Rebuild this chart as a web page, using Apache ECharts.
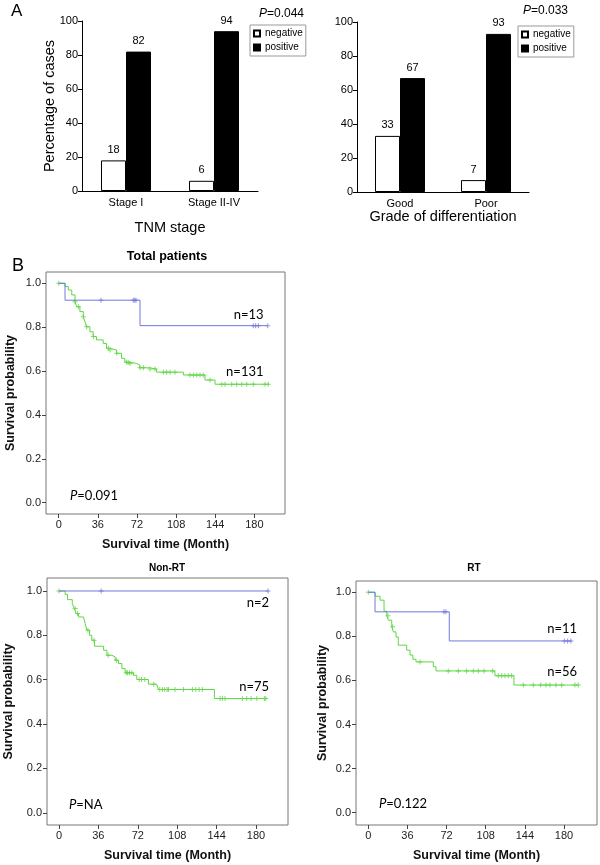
<!DOCTYPE html>
<html>
<head>
<meta charset="utf-8">
<script src="https://cdn.jsdelivr.net/npm/echarts@6/dist/echarts.min.js"></script>
<style>
html,body{margin:0;padding:0;background:#fff;}
#c{width:600px;height:865px;}
</style>
</head>
<body>
<div id="c"></div>
<script>
// ---------- DATA ----------
const tnmCategories = ['Stage I', 'Stage II-IV'];
const tnmNegative = [18, 6];
const tnmPositive = [82, 94];
const gradeCategories = ['Good', 'Poor'];
const gradeNegative = [33, 7];
const gradePositive = [67, 93];
const pctTicks = [0, 20, 40, 60, 80, 100];
const monthTicks = [0, 36, 72, 108, 144, 180];
const probTicks = [0, 0.2, 0.4, 0.6, 0.8, 1.0];

// Total patients
const totalBlueT = [0, 5.8, 74.8, 192];
const totalBlueS = [1, 0.923, 0.807, 0.807];
const totalBlueCensor = [38.9, 68.6, 70, 71.1, 179, 181.2, 183.7, 192.3];
const totalGreenT = [0, 5.8, 8.9, 12, 15, 16.5, 19.5, 22.6, 24.1, 25.6, 28.7, 31.7, 34.8, 40.9, 44, 47, 53.2, 57.8, 60.8, 65.4, 71.6, 74.6, 83.8, 90, 114.7, 134.6, 143.8, 193.5];
const totalGreenS = [1, 0.985, 0.969, 0.947, 0.916, 0.893, 0.871, 0.848, 0.825, 0.802, 0.779, 0.757, 0.742, 0.726, 0.704, 0.696, 0.681, 0.658, 0.640, 0.635, 0.628, 0.615, 0.609, 0.595, 0.582, 0.559, 0.540, 0.540];
const totalGreenCensor = [0, 15, 18.1, 22.6, 25.7, 31.9, 45.7, 47.2, 53.3, 62.5, 64, 65.6, 74.8, 77.9, 84, 88.6, 96.3, 99.3, 102.4, 107, 120.8, 123.9, 127, 130, 133, 139.2, 150, 153, 159.2, 163.8, 168.4, 173, 179, 189.8, 192.8];

// Non-RT
const nonrtBlueT = [0, 191];
const nonrtBlueS = [1, 1];
const nonrtBlueCensor = [38.6, 191];
const nonrtGreenT = [0, 5.7, 7.9, 12.2, 14, 15.8, 17.9, 22.4, 24, 25.5, 28, 30, 32.5, 40.8, 43.8, 48.4, 51.4, 54.4, 57.5, 60.5, 68.1, 71.1, 81.7, 89.3, 90.8, 142, 190];
const nonrtGreenS = [1, 0.985, 0.961, 0.943, 0.921, 0.898, 0.883, 0.876, 0.853, 0.823, 0.8, 0.778, 0.751, 0.733, 0.710, 0.703, 0.688, 0.673, 0.650, 0.631, 0.62, 0.601, 0.58, 0.571, 0.556, 0.515, 0.515];
const nonrtGreenCensor = [0, 14.8, 17, 26.5, 32, 45, 52.5, 61.5, 62.7, 64.5, 66.6, 73.3, 75.4, 78.4, 86.6, 92.1, 94.5, 96.6, 98.8, 100, 106, 113.7, 121.9, 125, 128, 131, 147.2, 149.3, 151.7, 167.5, 171.5, 175.5, 180.7, 187.6, 188.9];

// RT
const rtBlueT = [0, 6.2, 74.5, 187];
const rtBlueS = [1, 0.911, 0.779, 0.779];
const rtBlueCensor = [69.6, 71.4, 180.3, 183.4, 186.4];
const rtGreenT = [0, 6.2, 10.8, 14.5, 17, 18.5, 21.6, 23.1, 25.5, 27.6, 35.3, 38.4, 41, 43.9, 59.8, 62.3, 116.5, 134, 193.2];
const rtGreenS = [1, 0.982, 0.964, 0.914, 0.893, 0.873, 0.843, 0.820, 0.797, 0.760, 0.737, 0.715, 0.696, 0.684, 0.662, 0.643, 0.621, 0.579, 0.579];
const rtGreenCensor = [0, 18.1, 22.4, 47.6, 73.6, 82.8, 90.5, 96.6, 101.2, 106.4, 114.4, 119.6, 122.7, 125.7, 128.8, 131.9, 142.6, 151.8, 158.6, 163.4, 167.1, 172.6, 177.9, 190.1, 193.2];

// ---------- HELPERS ----------
const FONT = '"Liberation Sans", Arial, sans-serif';
const NFONT = 'Lato, "Open Sans", sans-serif';
const BLUE = '#7278dc';
const GREEN = '#5fd645';
const PLUS = 'path://M4,0H6V4H10V6H6V10H4V6H0V4H4Z';

function pairs(t, s) { return t.map((v, i) => [v, s[i]]); }
function stepAt(t, s, x) { let v = s[0]; for (let i = 0; i < t.length; i++) { if (t[i] <= x) v = s[i]; } return v; }
function censorPts(t, s, c) { return c.map(x => [x, stepAt(t, s, x)]); }

function kmSeries(idx, bt, bs, bc, gt, gs, gc) {
  return [
    { type: 'line', xAxisIndex: idx, yAxisIndex: idx, data: pairs(gt, gs), step: 'end', symbol: 'none', lineStyle: { color: GREEN, width: 1 }, animation: false, z: 2 },
    { type: 'scatter', xAxisIndex: idx, yAxisIndex: idx, data: censorPts(gt, gs, gc), symbol: PLUS, symbolSize: 5, itemStyle: { color: GREEN }, animation: false, z: 3 },
    { type: 'line', xAxisIndex: idx, yAxisIndex: idx, data: pairs(bt, bs), step: 'end', symbol: 'none', lineStyle: { color: BLUE, width: 1 }, animation: false, z: 4 },
    { type: 'scatter', xAxisIndex: idx, yAxisIndex: idx, data: censorPts(bt, bs, bc), symbol: PLUS, symbolSize: 5, itemStyle: { color: BLUE }, animation: false, z: 5 }
  ];
}

function kmX(idx, min, max) {
  return {
    type: 'value', gridIndex: idx, min: min, max: max,
    axisLine: { show: false, onZero: false },
    axisTick: { show: true, customValues: monthTicks, length: 4, lineStyle: { color: '#444' } },
    axisLabel: { customValues: monthTicks, fontSize: 11, fontFamily: FONT, color: '#222', margin: 5 },
    splitLine: { show: false },
    name: 'Survival time (Month)', nameLocation: 'middle', nameGap: 24,
    nameTextStyle: { fontFamily: FONT, fontWeight: 'bold', fontSize: 12.5, color: '#111' }
  };
}
function kmY(idx, min, max, gap) {
  return {
    type: 'value', gridIndex: idx, min: min, max: max,
    axisLine: { show: false, onZero: false },
    axisTick: { show: true, customValues: probTicks, length: 4, lineStyle: { color: '#444' } },
    axisLabel: { customValues: probTicks, formatter: v => v.toFixed(1), fontSize: 11, fontFamily: FONT, color: '#222', margin: 5 },
    splitLine: { show: false },
    name: 'Survival probability', nameLocation: 'middle', nameGap: gap, nameRotate: 90,
    nameTextStyle: { fontFamily: FONT, fontWeight: 'bold', fontSize: 12.5, color: '#111' }
  };
}
function barX(idx, cats, name, gap) {
  return {
    type: 'category', gridIndex: idx, data: cats,
    axisLine: { lineStyle: { color: '#000' } },
    axisTick: { length: 4, lineStyle: { color: '#000' } },
    axisLabel: { fontSize: 11, fontFamily: FONT, color: '#000', margin: 6 },
    name: name, nameLocation: 'middle', nameGap: gap,
    nameTextStyle: { fontSize: 14.5, fontFamily: FONT, color: '#000' }
  };
}
function barY(idx, name) {
  return {
    type: 'value', gridIndex: idx, min: 0, max: 100, interval: 20,
    axisLine: { show: true, lineStyle: { color: '#000' } },
    axisTick: { show: true, length: 4, lineStyle: { color: '#000' } },
    axisLabel: { fontSize: 11, fontFamily: FONT, color: '#000', margin: 4 },
    splitLine: { show: false },
    name: name, nameLocation: 'middle', nameGap: 25, nameRotate: 90, nameMoveOverlap: false,
    nameTextStyle: { fontSize: 14.5, fontFamily: FONT, color: '#000' }
  };
}
function barSeries(idx, name, data, fill) {
  return {
    type: 'bar', name: name, xAxisIndex: idx, yAxisIndex: idx, data: data,
    barWidth: 25, barGap: '0%',
    itemStyle: { color: fill, borderColor: '#000', borderWidth: 1 },
    label: { show: true, position: 'top', distance: 5, fontSize: 11, fontFamily: FONT, color: '#000' },
    animation: false
  };
}
function legendAt(left, top) {
  return {
    left: left, top: top, orient: 'vertical', selectedMode: false,
    data: [{ name: 'negative', icon: 'rect' }, { name: 'positive', icon: 'rect' }],
    itemWidth: 6, itemHeight: 6, itemGap: 3, padding: [3, 3, 3, 3],
    borderColor: '#999', borderWidth: 1,
    textStyle: { fontSize: 10, fontFamily: FONT, color: '#000', lineHeight: 11 }
  };
}
function txt(x, y, text, opt) {
  return { type: 'text', x: x, y: y, silent: true, style: Object.assign({ text: text, fill: '#000', fontFamily: FONT, fontSize: 12, align: 'left', verticalAlign: 'middle' }, opt || {}) };
}
function ptxt(x, y, text, size, family) {
  return {
    type: 'text', x: x, y: y, silent: true,
    style: {
      text: '{i|P}' + text, fill: '#000', fontFamily: family, fontSize: size, align: 'left', verticalAlign: 'middle',
      rich: { i: { fontStyle: 'italic', fontFamily: family, fontSize: size, fill: '#000' } }
    }
  };
}

const chart = echarts.init(document.getElementById('c'), null, { renderer: 'canvas' });
chart.setOption({
  backgroundColor: '#fff',
  animation: false,
  legend: [legendAt(250, 25), legendAt(518, 26)],
  grid: [
    { left: 82, top: 21, width: 176, height: 170 },
    { left: 357, top: 22, width: 172, height: 170 },
    { left: 46, top: 272, width: 239, height: 242, show: true, borderColor: '#777', borderWidth: 1 },
    { left: 47, top: 578, width: 241, height: 247, show: true, borderColor: '#777', borderWidth: 1 },
    { left: 356, top: 581, width: 241, height: 244, show: true, borderColor: '#777', borderWidth: 1 }
  ],
  xAxis: [
    barX(0, tnmCategories, 'TNM stage', 29),
    barX(1, gradeCategories, 'Grade of differentiation', 12),
    kmX(2, -11.7, 208.2),
    kmX(3, -10.9, 209.2),
    kmX(4, -11.3, 210.4)
  ],
  yAxis: [
    barY(0, 'Percentage of cases'),
    barY(1, ''),
    kmY(2, -0.0515, 1.0515, 29),
    kmY(3, -0.055, 1.0586, 32),
    kmY(4, -0.056, 1.051, 27)
  ],
  series: [
    barSeries(0, 'negative', tnmNegative, '#fff'),
    barSeries(0, 'positive', tnmPositive, '#000'),
    barSeries(1, 'negative', gradeNegative, '#fff'),
    barSeries(1, 'positive', gradePositive, '#000'),
    ...kmSeries(2, totalBlueT, totalBlueS, totalBlueCensor, totalGreenT, totalGreenS, totalGreenCensor),
    ...kmSeries(3, nonrtBlueT, nonrtBlueS, nonrtBlueCensor, nonrtGreenT, nonrtGreenS, nonrtGreenCensor),
    ...kmSeries(4, rtBlueT, rtBlueS, rtBlueCensor, rtGreenT, rtGreenS, rtGreenCensor)
  ],
  graphic: [
    txt(11, 11, 'A', { fontSize: 17 }),
    txt(12, 266, 'B', { fontSize: 18 }),
    ptxt(259, 14, '=0.044', 12, FONT),
    ptxt(523, 11, '=0.033', 12, FONT),
    txt(167, 257, 'Total patients', { fontWeight: 'bold', fontSize: 12.5, align: 'center' }),
    txt(167, 568, 'Non-RT', { fontWeight: 'bold', fontSize: 10, align: 'center' }),
    txt(474, 568, 'RT', { fontWeight: 'bold', fontSize: 10, align: 'center' }),
    txt(263.5, 315, 'n=13', { fontFamily: NFONT, fontSize: 13, align: 'right' }),
    txt(263.5, 372, 'n=131', { fontFamily: NFONT, fontSize: 13, align: 'right' }),
    txt(269, 603, 'n=2', { fontFamily: NFONT, fontSize: 13, align: 'right' }),
    txt(269, 687, 'n=75', { fontFamily: NFONT, fontSize: 13, align: 'right' }),
    txt(577, 629, 'n=11', { fontFamily: NFONT, fontSize: 13, align: 'right' }),
    txt(577, 672, 'n=56', { fontFamily: NFONT, fontSize: 13, align: 'right' }),
    ptxt(70, 496, '=0.091', 13, NFONT),
    ptxt(69, 805, '=NA', 13, NFONT),
    ptxt(379, 804, '=0.122', 13, NFONT)
  ]
});
</script>
</body>
</html>
